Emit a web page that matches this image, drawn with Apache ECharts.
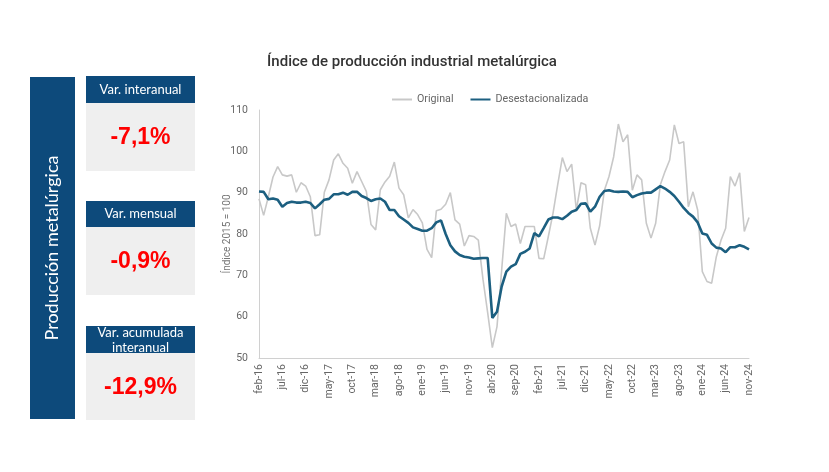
<!DOCTYPE html>
<html>
<head>
<meta charset="utf-8">
<script src="https://cdn.jsdelivr.net/npm/echarts@6/dist/echarts.min.js"></script>
<style>
html,body{margin:0;padding:0;background:#fff;}
#c{width:829px;height:472px;}
</style>
</head>
<body>
<div id="c"></div>
<script>
// ---- data ----
const monthNames = ['ene','feb','mar','abr','may','jun','jul','ago','sep','oct','nov','dic'];
const startYear = 2016, startMonth = 1; // feb-16 (0-based month index)
const nPoints = 106;                    // feb-16 .. nov-24
const categories = [];
for (let k = 0; k < nPoints; k++) {
  const m = (startMonth + k) % 12;
  const y = startYear + Math.floor((startMonth + k) / 12);
  categories.push(monthNames[m] + '-' + String(y).slice(2));
}

const original = [
  88.5, 84.5, 89.0, 93.8, 96.3, 94.3, 94.0, 94.3, 90.1, 92.4,
  91.6, 89.0, 79.6, 79.8, 90.1, 93.1, 97.9, 99.4, 97.1, 95.9,
  92.3, 95.1, 92.7, 90.3, 82.3, 81.0, 90.7, 92.6, 94.0, 97.4,
  91.1, 89.5, 83.9, 85.9, 84.7, 82.7, 76.3, 74.3, 85.6, 86.0,
  87.2, 90.0, 83.4, 82.4, 77.1, 79.6, 79.4, 78.5, 69.0, 61.0,
  52.5, 57.6, 71.3, 85.0, 81.8, 82.4, 77.7, 81.8, 81.8, 81.8,
  74.1, 74.0, 79.4, 85.0, 91.9, 98.5, 95.1, 96.9, 85.8, 92.4,
  91.9, 81.4, 77.3, 82.0, 90.5, 93.9, 98.7, 106.6, 102.3, 104.0,
  90.6, 94.3, 93.1, 82.6, 79.0, 82.6, 91.9, 95.1, 97.9, 106.4,
  101.9, 102.3, 86.6, 90.2, 85.8, 70.9, 68.5, 68.1, 74.5, 78.5,
  81.4, 93.9, 91.6, 94.8, 80.6, 84.0
];
const desestacionalizada = [
  90.3, 90.2, 88.4, 88.6, 88.3, 86.6, 87.5, 87.8, 87.6, 87.6,
  87.8, 87.5, 86.2, 87.2, 88.3, 88.5, 89.6, 89.6, 90.0, 89.5,
  90.2, 90.2, 89.2, 88.7, 88.0, 88.4, 88.6, 87.8, 85.8, 85.8,
  84.3, 83.5, 82.7, 81.6, 81.2, 80.8, 80.8, 81.4, 82.8, 83.3,
  80.0, 77.3, 75.8, 74.9, 74.5, 74.3, 74.0, 74.1, 74.2, 74.2,
  59.7, 61.2, 67.3, 70.9, 72.1, 72.7, 75.2, 75.7, 76.5, 80.2,
  79.4, 81.4, 83.5, 84.0, 84.0, 83.6, 84.4, 85.4, 85.8, 87.3,
  87.4, 85.4, 86.6, 89.0, 90.4, 90.6, 90.3, 90.2, 90.3, 90.2,
  88.9, 89.4, 89.8, 90.0, 90.0, 90.8, 91.6, 91.0, 90.2, 89.2,
  87.8, 86.3, 85.1, 84.2, 82.8, 80.1, 79.8, 77.7, 76.7, 76.5,
  75.6, 76.8, 76.8, 77.3, 76.9, 76.3
];
const seriesNames = ['Original', 'Desestacionalizada'];
const chartTitle = 'Índice de producción industrial metalúrgica';
const yAxisName = 'Índice 2015 = 100';
const panelTitle = 'Producción metalúrgica';
const kpiLabels = ['Var. interanual', 'Var. mensual', 'Var. acumulada\ninteranual'];
const kpiValues = ['-7,1%', '-0,9%', '-12,9%'];

// ---- layout ----
const navy = '#0d4a7b';
const grayLine = '#c8c8c8';
const blueLine = '#1c5f80';
const boxes = [
  {hy: 76, hh: 27, by: 103, bh: 68},
  {hy: 201, hh: 26, by: 227, bh: 68},
  {hy: 326, hh: 27, by: 353, bh: 67}
];
const graphics = [
  {type: 'rect', shape: {x: 30, y: 77, width: 45, height: 342}, style: {fill: navy}},
  {type: 'text', x: 52, y: 248, rotation: Math.PI / 2,
   style: {text: panelTitle, fill: '#fff', font: '18px Lato', textAlign: 'center', textVerticalAlign: 'middle'}}
];
boxes.forEach((b, i) => {
  graphics.push({type: 'rect', shape: {x: 86, y: b.by, width: 109, height: b.bh}, style: {fill: '#efefef'}});
  graphics.push({type: 'rect', shape: {x: 86, y: b.hy, width: 109, height: b.hh}, style: {fill: navy}});
  const two = kpiLabels[i].indexOf('\n') >= 0;
  graphics.push({type: 'text', x: 140.5, y: two ? b.hy + b.hh / 2 + 1 : b.hy + b.hh / 2,
    style: {text: kpiLabels[i], fill: '#fff', font: '13px Lato', textAlign: 'center', textVerticalAlign: 'middle', lineHeight: 15}});
  graphics.push({type: 'text', x: 140.5, y: b.by + b.bh / 2 + 1,
    style: {text: kpiValues[i], fill: '#ff0000', font: 'bold 23px "Liberation Sans", Arial', textAlign: 'center', textVerticalAlign: 'middle'}});
});

const chart = echarts.init(document.getElementById('c'));
chart.setOption({
  animation: false,
  backgroundColor: '#fff',
  title: {
    text: chartTitle, left: 407, top: 50, textAlign: 'center',
    textStyle: {fontFamily: 'Roboto', fontSize: 15, fontWeight: 500, color: '#333'}
  },
  legend: {
    left: 387, top: 89, itemGap: 17, itemWidth: 20, itemHeight: 2,
    textStyle: {fontFamily: 'Roboto', fontSize: 10.7, color: '#666'},
    data: [
      {name: seriesNames[0], icon: 'rect', itemStyle: {color: grayLine}},
      {name: seriesNames[1], icon: 'rect', itemStyle: {color: blueLine}}
    ]
  },
  grid: {left: 259, right: 80, top: 110, bottom: 114},
  xAxis: {
    type: 'category', data: categories, boundaryGap: false,
    axisLine: {lineStyle: {color: '#d0d0d0'}},
    axisTick: {show: false},
    axisLabel: {interval: 4, rotate: 90, fontFamily: 'Roboto', fontSize: 10.5, color: '#666', margin: 6}
  },
  yAxis: {
    type: 'value', min: 50, max: 110, interval: 10,
    name: yAxisName, nameLocation: 'middle', nameGap: 27, nameMoveOverlap: false,
    nameTextStyle: {fontFamily: 'Roboto', fontSize: 10, color: '#777'},
    axisLine: {show: true, lineStyle: {color: '#d0d0d0'}},
    axisTick: {show: false},
    splitLine: {show: false},
    axisLabel: {fontFamily: 'Roboto', fontSize: 10.5, color: '#666', margin: 11}
  },
  series: [
    {name: seriesNames[0], type: 'line', data: original, symbol: 'none',
     lineStyle: {color: grayLine, width: 1.6}, itemStyle: {color: grayLine}},
    {name: seriesNames[1], type: 'line', data: desestacionalizada, symbol: 'none',
     lineStyle: {color: blueLine, width: 2.6}, itemStyle: {color: blueLine}}
  ],
  graphic: graphics
});
</script>
</body>
</html>
